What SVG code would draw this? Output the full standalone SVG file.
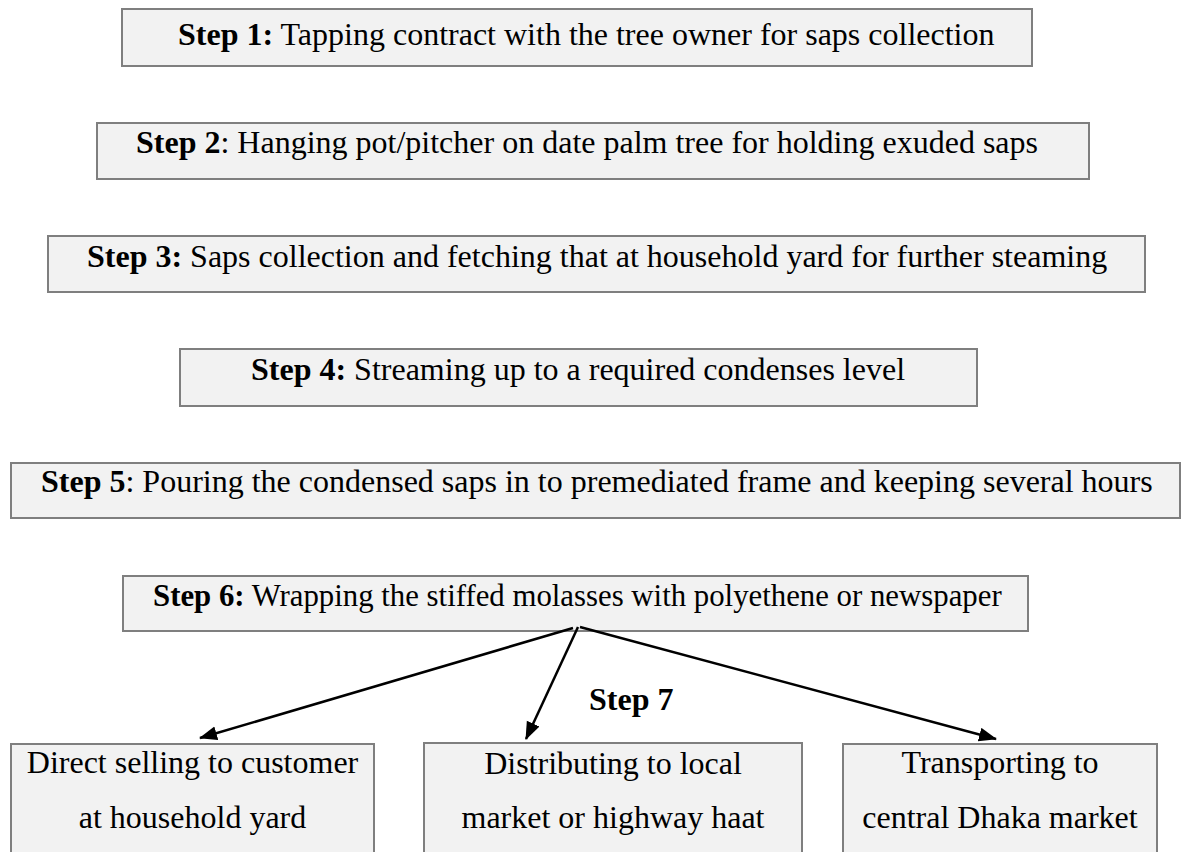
<svg xmlns="http://www.w3.org/2000/svg" width="1181" height="852" viewBox="0 0 1181 852">
<style>
.box{fill:#f2f2f2;stroke:#7f7f7f;stroke-width:2}
text{font-family:"Liberation Serif","Times New Roman",serif;font-size:32px;fill:#000}
.b{font-weight:bold}
.c{text-anchor:middle}
.conn{stroke:#000;stroke-width:2.5;fill:none}
</style>
<defs>
<marker id="ah" markerUnits="userSpaceOnUse" markerWidth="20" markerHeight="16" refX="17" refY="7" orient="auto">
<path d="M0,0 L18,7 L0,14 z" fill="#000"/>
</marker>
</defs>
<rect width="1181" height="852" fill="#fff"/>
<g id="step1">
<rect class="box" x="122" y="9" width="910" height="57"/>
<text x="178" y="45"><tspan class="b">Step 1:</tspan> Tapping contract with the tree owner for saps collection</text>
</g>
<g id="step2">
<rect class="box" x="97" y="123" width="992" height="56"/>
<text x="136" y="153"><tspan class="b">Step 2</tspan>: Hanging pot/pitcher on date palm tree for holding exuded saps</text>
</g>
<g id="step3">
<rect class="box" x="48" y="236" width="1097" height="56"/>
<text x="87" y="267"><tspan class="b">Step 3:</tspan> Saps collection and fetching that at household yard for further steaming</text>
</g>
<g id="step4">
<rect class="box" x="180" y="349" width="797" height="57"/>
<text x="251" y="380"><tspan class="b">Step 4:</tspan> Streaming up to a required condenses level</text>
</g>
<g id="step5">
<rect class="box" x="11" y="463" width="1169" height="55"/>
<text x="41" y="492"><tspan class="b">Step 5</tspan>: Pouring the condensed saps in to premediated frame and keeping several hours</text>
</g>
<g id="step6">
<rect class="box" x="123" y="576" width="905" height="55"/>
<text x="153" y="606" style="font-size:30.8px"><tspan class="b">Step 6:</tspan> Wrapping the stiffed molasses with polyethene or newspaper</text>
</g>
<g id="step7label">
<text class="b" x="589" y="710">Step 7</text>
</g>
<g id="sellA">
<rect class="box" x="11" y="744" width="363" height="120"/>
<text class="c" x="192.5" y="773">Direct selling to customer</text>
<text class="c" x="192.5" y="828">at household yard</text>
</g>
<g id="sellB">
<rect class="box" x="424" y="743" width="378" height="120"/>
<text class="c" x="613" y="774">Distributing to local</text>
<text class="c" x="613" y="828">market or highway haat</text>
</g>
<g id="sellC">
<rect class="box" x="843" y="744" width="314" height="120"/>
<text class="c" x="1000" y="773">Transporting to</text>
<text class="c" x="1000" y="828">central Dhaka market</text>
</g>
<g id="connectors">
<line class="conn" x1="573" y1="628" x2="200" y2="738" marker-end="url(#ah)"/>
<line class="conn" x1="578" y1="627" x2="526" y2="739" marker-end="url(#ah)"/>
<line class="conn" x1="580" y1="627" x2="996" y2="739" marker-end="url(#ah)"/>
</g>
</svg>
